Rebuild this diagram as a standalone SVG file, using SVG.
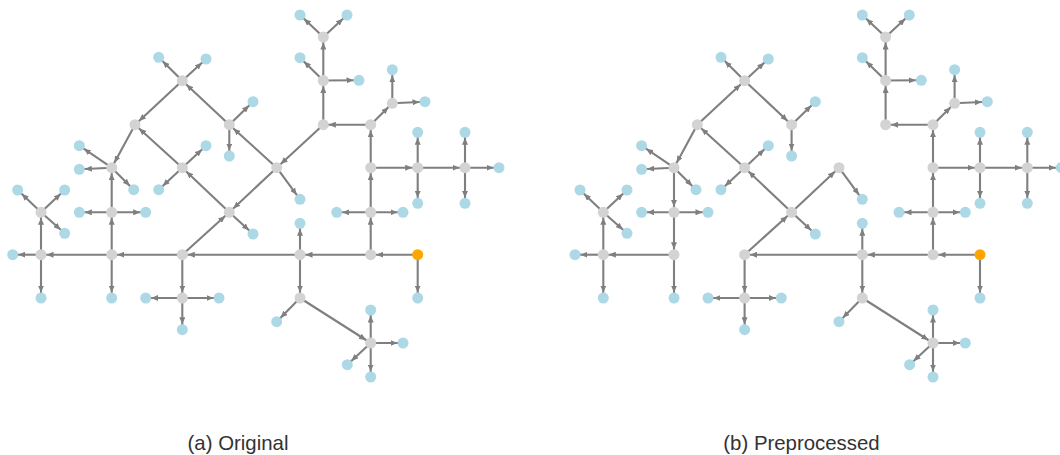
<svg xmlns="http://www.w3.org/2000/svg" width="1060" height="455" viewBox="0 0 1060 455">
<style>
.e{stroke:#7f7f7f;stroke-width:2.1;fill:none;marker-end:url(#arr)}
.g{fill:#d3d3d3}
.b{fill:#add8e6}
.o{fill:#ffa500}
.cap{font-family:"Liberation Sans",Arial,sans-serif;font-size:20.4px;fill:#333;text-anchor:middle}
</style>
<defs>
<marker id="arr" markerUnits="userSpaceOnUse" markerWidth="7" markerHeight="6" viewBox="0 0 7 6" refX="12.5" refY="3" orient="auto">
<path d="M0,0 L7,3 L0,6 z" fill="#7f7f7f"/>
</marker>
</defs>

<!-- (a) original graph -->
<g id="graph-a">
<g id="a-edges">
<line class="e" x1="182.3" y1="80.7" x2="158.7" y2="57.3"/>
<line class="e" x1="182.3" y1="80.7" x2="206" y2="59"/>
<line class="e" x1="182.3" y1="80.7" x2="135" y2="124.7"/>
<line class="e" x1="229.3" y1="124.7" x2="182.3" y2="80.7"/>
<line class="e" x1="229.3" y1="124.7" x2="253" y2="101.7"/>
<line class="e" x1="229.3" y1="124.7" x2="229.3" y2="156"/>
<line class="e" x1="276.7" y1="167.7" x2="229.3" y2="124.7"/>
<line class="e" x1="135" y1="124.7" x2="111.7" y2="167.7"/>
<line class="e" x1="182.3" y1="167.7" x2="135" y2="124.7"/>
<line class="e" x1="111.7" y1="167.7" x2="79.3" y2="145.7"/>
<line class="e" x1="111.7" y1="167.7" x2="79.3" y2="169.3"/>
<line class="e" x1="111.7" y1="167.7" x2="133.7" y2="189.7"/>
<line class="e" x1="182.3" y1="167.7" x2="206" y2="145.7"/>
<line class="e" x1="182.3" y1="167.7" x2="158.7" y2="189.7"/>
<line class="e" x1="229.3" y1="212.3" x2="182.3" y2="167.7"/>
<line class="e" x1="323.3" y1="37" x2="300" y2="15"/>
<line class="e" x1="323.3" y1="37" x2="347" y2="15"/>
<line class="e" x1="323.3" y1="80.5" x2="323.3" y2="37"/>
<line class="e" x1="323.3" y1="80.5" x2="300" y2="57.7"/>
<line class="e" x1="323.3" y1="80.5" x2="359" y2="80.3"/>
<line class="e" x1="323.3" y1="124.7" x2="323.3" y2="80.5"/>
<line class="e" x1="370.7" y1="124.7" x2="323.3" y2="124.7"/>
<line class="e" x1="370.7" y1="124.7" x2="392.3" y2="103.3"/>
<line class="e" x1="392.3" y1="103.3" x2="392.3" y2="69.7"/>
<line class="e" x1="392.3" y1="103.3" x2="425" y2="101.7"/>
<line class="e" x1="323.3" y1="124.7" x2="276.7" y2="167.7"/>
<line class="e" x1="276.7" y1="167.7" x2="300" y2="199.3"/>
<line class="e" x1="276.7" y1="167.7" x2="229.3" y2="212.3"/>
<line class="e" x1="370.7" y1="167.7" x2="370.7" y2="124.7"/>
<line class="e" x1="370.7" y1="167.7" x2="417.7" y2="167.7"/>
<line class="e" x1="417.7" y1="167.7" x2="465" y2="167.7"/>
<line class="e" x1="417.7" y1="167.7" x2="417.7" y2="132.3"/>
<line class="e" x1="417.7" y1="167.7" x2="417.7" y2="203.3"/>
<line class="e" x1="465" y1="167.7" x2="465" y2="132.3"/>
<line class="e" x1="465" y1="167.7" x2="465" y2="203.3"/>
<line class="e" x1="465" y1="167.7" x2="499" y2="167.7"/>
<line class="e" x1="370.7" y1="212.3" x2="370.7" y2="167.7"/>
<line class="e" x1="370.7" y1="212.3" x2="336.7" y2="212.3"/>
<line class="e" x1="370.7" y1="212.3" x2="403" y2="212.3"/>
<line class="e" x1="370.7" y1="254.7" x2="370.7" y2="212.3"/>
<line class="e" x1="41" y1="212.3" x2="17.7" y2="190"/>
<line class="e" x1="41" y1="212.3" x2="64.7" y2="190"/>
<line class="e" x1="41" y1="212.3" x2="64.7" y2="233.3"/>
<line class="e" x1="41" y1="254.7" x2="41" y2="212.3"/>
<line class="e" x1="111.7" y1="212.3" x2="111.7" y2="167.7"/>
<line class="e" x1="111.7" y1="212.3" x2="79.3" y2="212.3"/>
<line class="e" x1="111.7" y1="212.3" x2="145.7" y2="212.3"/>
<line class="e" x1="111.7" y1="254.7" x2="111.7" y2="212.3"/>
<line class="e" x1="111.7" y1="254.7" x2="41" y2="254.7"/>
<line class="e" x1="41" y1="254.7" x2="12.7" y2="254.7"/>
<line class="e" x1="41" y1="254.7" x2="41" y2="298"/>
<line class="e" x1="111.7" y1="254.7" x2="111.7" y2="298"/>
<line class="e" x1="182.3" y1="254.7" x2="111.7" y2="254.7"/>
<line class="e" x1="182.3" y1="254.7" x2="182.3" y2="298"/>
<line class="e" x1="182.3" y1="254.7" x2="229.3" y2="212.3"/>
<line class="e" x1="182.3" y1="298" x2="145.7" y2="298"/>
<line class="e" x1="182.3" y1="298" x2="219" y2="298"/>
<line class="e" x1="182.3" y1="298" x2="182.3" y2="329.7"/>
<line class="e" x1="229.3" y1="212.3" x2="253" y2="234"/>
<line class="e" x1="300" y1="254.7" x2="182.3" y2="254.7"/>
<line class="e" x1="300" y1="254.7" x2="300" y2="223.3"/>
<line class="e" x1="370.7" y1="254.7" x2="300" y2="254.7"/>
<line class="e" x1="417.7" y1="254.7" x2="370.7" y2="254.7"/>
<line class="e" x1="417.7" y1="254.7" x2="417.7" y2="298"/>
<line class="e" x1="300" y1="254.7" x2="300" y2="298"/>
<line class="e" x1="300" y1="298" x2="276.7" y2="321.7"/>
<line class="e" x1="300" y1="298" x2="370.7" y2="343"/>
<line class="e" x1="370.7" y1="343" x2="370.7" y2="310"/>
<line class="e" x1="370.7" y1="343" x2="403" y2="343"/>
<line class="e" x1="370.7" y1="343" x2="347.3" y2="364.7"/>
<line class="e" x1="370.7" y1="343" x2="370.7" y2="377"/>
</g>
<g id="a-nodes">
<g id="a-A"><circle class="g" cx="182.3" cy="80.7" r="5.5"/></g>
<g id="a-B"><circle class="g" cx="135" cy="124.7" r="5.5"/></g>
<g id="a-C"><circle class="g" cx="229.3" cy="124.7" r="5.5"/></g>
<g id="a-D"><circle class="g" cx="111.7" cy="167.7" r="5.5"/></g>
<g id="a-E"><circle class="g" cx="182.3" cy="167.7" r="5.5"/></g>
<g id="a-F"><circle class="g" cx="323.3" cy="37" r="5.5"/></g>
<g id="a-G"><circle class="g" cx="323.3" cy="80.5" r="5.5"/></g>
<g id="a-H"><circle class="g" cx="323.3" cy="124.7" r="5.5"/></g>
<g id="a-I"><circle class="g" cx="370.7" cy="124.7" r="5.5"/></g>
<g id="a-J"><circle class="g" cx="392.3" cy="103.3" r="5.5"/></g>
<g id="a-K"><circle class="g" cx="276.7" cy="167.7" r="5.5"/></g>
<g id="a-L"><circle class="g" cx="370.7" cy="167.7" r="5.5"/></g>
<g id="a-M"><circle class="g" cx="417.7" cy="167.7" r="5.5"/></g>
<g id="a-N"><circle class="g" cx="465" cy="167.7" r="5.5"/></g>
<g id="a-O"><circle class="g" cx="41" cy="212.3" r="5.5"/></g>
<g id="a-P"><circle class="g" cx="111.7" cy="212.3" r="5.5"/></g>
<g id="a-Q"><circle class="g" cx="41" cy="254.7" r="5.5"/></g>
<g id="a-R"><circle class="g" cx="111.7" cy="254.7" r="5.5"/></g>
<g id="a-S"><circle class="g" cx="182.3" cy="254.7" r="5.5"/></g>
<g id="a-T"><circle class="g" cx="182.3" cy="298" r="5.5"/></g>
<g id="a-U"><circle class="g" cx="229.3" cy="212.3" r="5.5"/></g>
<g id="a-V"><circle class="g" cx="370.7" cy="212.3" r="5.5"/></g>
<g id="a-W"><circle class="g" cx="300" cy="254.7" r="5.5"/></g>
<g id="a-X"><circle class="g" cx="370.7" cy="254.7" r="5.5"/></g>
<g id="a-Y"><circle class="o" cx="417.7" cy="254.7" r="5.5"/></g>
<g id="a-Z"><circle class="g" cx="300" cy="298" r="5.5"/></g>
<g id="a-AA"><circle class="g" cx="370.7" cy="343" r="5.5"/></g>
<g id="a-a1"><circle class="b" cx="158.7" cy="57.3" r="5.5"/></g>
<g id="a-a2"><circle class="b" cx="206" cy="59" r="5.5"/></g>
<g id="a-c1"><circle class="b" cx="253" cy="101.7" r="5.5"/></g>
<g id="a-c2"><circle class="b" cx="229.3" cy="156" r="5.5"/></g>
<g id="a-d1"><circle class="b" cx="79.3" cy="145.7" r="5.5"/></g>
<g id="a-d2"><circle class="b" cx="79.3" cy="169.3" r="5.5"/></g>
<g id="a-d3"><circle class="b" cx="133.7" cy="189.7" r="5.5"/></g>
<g id="a-e1"><circle class="b" cx="206" cy="145.7" r="5.5"/></g>
<g id="a-e2"><circle class="b" cx="158.7" cy="189.7" r="5.5"/></g>
<g id="a-f1"><circle class="b" cx="300" cy="15" r="5.5"/></g>
<g id="a-f2"><circle class="b" cx="347" cy="15" r="5.5"/></g>
<g id="a-g1"><circle class="b" cx="300" cy="57.7" r="5.5"/></g>
<g id="a-g2"><circle class="b" cx="359" cy="80.3" r="5.5"/></g>
<g id="a-j1"><circle class="b" cx="392.3" cy="69.7" r="5.5"/></g>
<g id="a-j2"><circle class="b" cx="425" cy="101.7" r="5.5"/></g>
<g id="a-k1"><circle class="b" cx="300" cy="199.3" r="5.5"/></g>
<g id="a-m1"><circle class="b" cx="417.7" cy="132.3" r="5.5"/></g>
<g id="a-m2"><circle class="b" cx="417.7" cy="203.3" r="5.5"/></g>
<g id="a-n1"><circle class="b" cx="465" cy="132.3" r="5.5"/></g>
<g id="a-n2"><circle class="b" cx="465" cy="203.3" r="5.5"/></g>
<g id="a-n3"><circle class="b" cx="499" cy="167.7" r="5.5"/></g>
<g id="a-o1"><circle class="b" cx="17.7" cy="190" r="5.5"/></g>
<g id="a-o2"><circle class="b" cx="64.7" cy="190" r="5.5"/></g>
<g id="a-o3"><circle class="b" cx="64.7" cy="233.3" r="5.5"/></g>
<g id="a-p1"><circle class="b" cx="79.3" cy="212.3" r="5.5"/></g>
<g id="a-p2"><circle class="b" cx="145.7" cy="212.3" r="5.5"/></g>
<g id="a-q1"><circle class="b" cx="12.7" cy="254.7" r="5.5"/></g>
<g id="a-q2"><circle class="b" cx="41" cy="298" r="5.5"/></g>
<g id="a-r1"><circle class="b" cx="111.7" cy="298" r="5.5"/></g>
<g id="a-t1"><circle class="b" cx="145.7" cy="298" r="5.5"/></g>
<g id="a-t2"><circle class="b" cx="219" cy="298" r="5.5"/></g>
<g id="a-t3"><circle class="b" cx="182.3" cy="329.7" r="5.5"/></g>
<g id="a-u1"><circle class="b" cx="253" cy="234" r="5.5"/></g>
<g id="a-v1"><circle class="b" cx="336.7" cy="212.3" r="5.5"/></g>
<g id="a-v2"><circle class="b" cx="403" cy="212.3" r="5.5"/></g>
<g id="a-w1"><circle class="b" cx="300" cy="223.3" r="5.5"/></g>
<g id="a-y1"><circle class="b" cx="417.7" cy="298" r="5.5"/></g>
<g id="a-z1"><circle class="b" cx="276.7" cy="321.7" r="5.5"/></g>
<g id="a-aa1"><circle class="b" cx="370.7" cy="310" r="5.5"/></g>
<g id="a-aa2"><circle class="b" cx="403" cy="343" r="5.5"/></g>
<g id="a-aa3"><circle class="b" cx="347.3" cy="364.7" r="5.5"/></g>
<g id="a-aa4"><circle class="b" cx="370.7" cy="377" r="5.5"/></g>
</g>
</g>

<!-- (b) preprocessed graph: same layout, some edges reversed or dropped -->
<g id="graph-b" transform="translate(562.3,0)">
<g id="b-edges">
<line class="e" x1="182.3" y1="80.7" x2="158.7" y2="57.3"/>
<line class="e" x1="182.3" y1="80.7" x2="206" y2="59"/>
<line class="e" x1="135" y1="124.7" x2="182.3" y2="80.7"/>
<line class="e" x1="182.3" y1="80.7" x2="229.3" y2="124.7"/>
<line class="e" x1="229.3" y1="124.7" x2="253" y2="101.7"/>
<line class="e" x1="229.3" y1="124.7" x2="229.3" y2="156"/>
<line class="e" x1="135" y1="124.7" x2="111.7" y2="167.7"/>
<line class="e" x1="182.3" y1="167.7" x2="135" y2="124.7"/>
<line class="e" x1="111.7" y1="167.7" x2="79.3" y2="145.7"/>
<line class="e" x1="111.7" y1="167.7" x2="79.3" y2="169.3"/>
<line class="e" x1="111.7" y1="167.7" x2="133.7" y2="189.7"/>
<line class="e" x1="182.3" y1="167.7" x2="206" y2="145.7"/>
<line class="e" x1="182.3" y1="167.7" x2="158.7" y2="189.7"/>
<line class="e" x1="229.3" y1="212.3" x2="182.3" y2="167.7"/>
<line class="e" x1="323.3" y1="37" x2="300" y2="15"/>
<line class="e" x1="323.3" y1="37" x2="347" y2="15"/>
<line class="e" x1="323.3" y1="80.5" x2="323.3" y2="37"/>
<line class="e" x1="323.3" y1="80.5" x2="300" y2="57.7"/>
<line class="e" x1="323.3" y1="80.5" x2="359" y2="80.3"/>
<line class="e" x1="323.3" y1="124.7" x2="323.3" y2="80.5"/>
<line class="e" x1="370.7" y1="124.7" x2="323.3" y2="124.7"/>
<line class="e" x1="370.7" y1="124.7" x2="392.3" y2="103.3"/>
<line class="e" x1="392.3" y1="103.3" x2="392.3" y2="69.7"/>
<line class="e" x1="392.3" y1="103.3" x2="425" y2="101.7"/>
<line class="e" x1="276.7" y1="167.7" x2="300" y2="199.3"/>
<line class="e" x1="229.3" y1="212.3" x2="276.7" y2="167.7"/>
<line class="e" x1="370.7" y1="167.7" x2="370.7" y2="124.7"/>
<line class="e" x1="370.7" y1="167.7" x2="417.7" y2="167.7"/>
<line class="e" x1="417.7" y1="167.7" x2="465" y2="167.7"/>
<line class="e" x1="417.7" y1="167.7" x2="417.7" y2="132.3"/>
<line class="e" x1="417.7" y1="167.7" x2="417.7" y2="203.3"/>
<line class="e" x1="465" y1="167.7" x2="465" y2="132.3"/>
<line class="e" x1="465" y1="167.7" x2="465" y2="203.3"/>
<line class="e" x1="465" y1="167.7" x2="499" y2="167.7"/>
<line class="e" x1="370.7" y1="212.3" x2="370.7" y2="167.7"/>
<line class="e" x1="370.7" y1="212.3" x2="336.7" y2="212.3"/>
<line class="e" x1="370.7" y1="212.3" x2="403" y2="212.3"/>
<line class="e" x1="370.7" y1="254.7" x2="370.7" y2="212.3"/>
<line class="e" x1="41" y1="212.3" x2="17.7" y2="190"/>
<line class="e" x1="41" y1="212.3" x2="64.7" y2="190"/>
<line class="e" x1="41" y1="212.3" x2="64.7" y2="233.3"/>
<line class="e" x1="41" y1="254.7" x2="41" y2="212.3"/>
<line class="e" x1="111.7" y1="167.7" x2="111.7" y2="212.3"/>
<line class="e" x1="111.7" y1="212.3" x2="79.3" y2="212.3"/>
<line class="e" x1="111.7" y1="212.3" x2="145.7" y2="212.3"/>
<line class="e" x1="111.7" y1="212.3" x2="111.7" y2="254.7"/>
<line class="e" x1="111.7" y1="254.7" x2="41" y2="254.7"/>
<line class="e" x1="41" y1="254.7" x2="12.7" y2="254.7"/>
<line class="e" x1="41" y1="254.7" x2="41" y2="298"/>
<line class="e" x1="111.7" y1="254.7" x2="111.7" y2="298"/>
<line class="e" x1="182.3" y1="254.7" x2="182.3" y2="298"/>
<line class="e" x1="182.3" y1="254.7" x2="229.3" y2="212.3"/>
<line class="e" x1="182.3" y1="298" x2="145.7" y2="298"/>
<line class="e" x1="182.3" y1="298" x2="219" y2="298"/>
<line class="e" x1="182.3" y1="298" x2="182.3" y2="329.7"/>
<line class="e" x1="229.3" y1="212.3" x2="253" y2="234"/>
<line class="e" x1="300" y1="254.7" x2="182.3" y2="254.7"/>
<line class="e" x1="300" y1="254.7" x2="300" y2="223.3"/>
<line class="e" x1="370.7" y1="254.7" x2="300" y2="254.7"/>
<line class="e" x1="417.7" y1="254.7" x2="370.7" y2="254.7"/>
<line class="e" x1="417.7" y1="254.7" x2="417.7" y2="298"/>
<line class="e" x1="300" y1="254.7" x2="300" y2="298"/>
<line class="e" x1="300" y1="298" x2="276.7" y2="321.7"/>
<line class="e" x1="300" y1="298" x2="370.7" y2="343"/>
<line class="e" x1="370.7" y1="343" x2="370.7" y2="310"/>
<line class="e" x1="370.7" y1="343" x2="403" y2="343"/>
<line class="e" x1="370.7" y1="343" x2="347.3" y2="364.7"/>
<line class="e" x1="370.7" y1="343" x2="370.7" y2="377"/>
</g>
<g id="b-nodes">
<g id="b-A"><circle class="g" cx="182.3" cy="80.7" r="5.5"/></g>
<g id="b-B"><circle class="g" cx="135" cy="124.7" r="5.5"/></g>
<g id="b-C"><circle class="g" cx="229.3" cy="124.7" r="5.5"/></g>
<g id="b-D"><circle class="g" cx="111.7" cy="167.7" r="5.5"/></g>
<g id="b-E"><circle class="g" cx="182.3" cy="167.7" r="5.5"/></g>
<g id="b-F"><circle class="g" cx="323.3" cy="37" r="5.5"/></g>
<g id="b-G"><circle class="g" cx="323.3" cy="80.5" r="5.5"/></g>
<g id="b-H"><circle class="g" cx="323.3" cy="124.7" r="5.5"/></g>
<g id="b-I"><circle class="g" cx="370.7" cy="124.7" r="5.5"/></g>
<g id="b-J"><circle class="g" cx="392.3" cy="103.3" r="5.5"/></g>
<g id="b-K"><circle class="g" cx="276.7" cy="167.7" r="5.5"/></g>
<g id="b-L"><circle class="g" cx="370.7" cy="167.7" r="5.5"/></g>
<g id="b-M"><circle class="g" cx="417.7" cy="167.7" r="5.5"/></g>
<g id="b-N"><circle class="g" cx="465" cy="167.7" r="5.5"/></g>
<g id="b-O"><circle class="g" cx="41" cy="212.3" r="5.5"/></g>
<g id="b-P"><circle class="g" cx="111.7" cy="212.3" r="5.5"/></g>
<g id="b-Q"><circle class="g" cx="41" cy="254.7" r="5.5"/></g>
<g id="b-R"><circle class="g" cx="111.7" cy="254.7" r="5.5"/></g>
<g id="b-S"><circle class="g" cx="182.3" cy="254.7" r="5.5"/></g>
<g id="b-T"><circle class="g" cx="182.3" cy="298" r="5.5"/></g>
<g id="b-U"><circle class="g" cx="229.3" cy="212.3" r="5.5"/></g>
<g id="b-V"><circle class="g" cx="370.7" cy="212.3" r="5.5"/></g>
<g id="b-W"><circle class="g" cx="300" cy="254.7" r="5.5"/></g>
<g id="b-X"><circle class="g" cx="370.7" cy="254.7" r="5.5"/></g>
<g id="b-Y"><circle class="o" cx="417.7" cy="254.7" r="5.5"/></g>
<g id="b-Z"><circle class="g" cx="300" cy="298" r="5.5"/></g>
<g id="b-AA"><circle class="g" cx="370.7" cy="343" r="5.5"/></g>
<g id="b-a1"><circle class="b" cx="158.7" cy="57.3" r="5.5"/></g>
<g id="b-a2"><circle class="b" cx="206" cy="59" r="5.5"/></g>
<g id="b-c1"><circle class="b" cx="253" cy="101.7" r="5.5"/></g>
<g id="b-c2"><circle class="b" cx="229.3" cy="156" r="5.5"/></g>
<g id="b-d1"><circle class="b" cx="79.3" cy="145.7" r="5.5"/></g>
<g id="b-d2"><circle class="b" cx="79.3" cy="169.3" r="5.5"/></g>
<g id="b-d3"><circle class="b" cx="133.7" cy="189.7" r="5.5"/></g>
<g id="b-e1"><circle class="b" cx="206" cy="145.7" r="5.5"/></g>
<g id="b-e2"><circle class="b" cx="158.7" cy="189.7" r="5.5"/></g>
<g id="b-f1"><circle class="b" cx="300" cy="15" r="5.5"/></g>
<g id="b-f2"><circle class="b" cx="347" cy="15" r="5.5"/></g>
<g id="b-g1"><circle class="b" cx="300" cy="57.7" r="5.5"/></g>
<g id="b-g2"><circle class="b" cx="359" cy="80.3" r="5.5"/></g>
<g id="b-j1"><circle class="b" cx="392.3" cy="69.7" r="5.5"/></g>
<g id="b-j2"><circle class="b" cx="425" cy="101.7" r="5.5"/></g>
<g id="b-k1"><circle class="b" cx="300" cy="199.3" r="5.5"/></g>
<g id="b-m1"><circle class="b" cx="417.7" cy="132.3" r="5.5"/></g>
<g id="b-m2"><circle class="b" cx="417.7" cy="203.3" r="5.5"/></g>
<g id="b-n1"><circle class="b" cx="465" cy="132.3" r="5.5"/></g>
<g id="b-n2"><circle class="b" cx="465" cy="203.3" r="5.5"/></g>
<g id="b-n3"><circle class="b" cx="499" cy="167.7" r="5.5"/></g>
<g id="b-o1"><circle class="b" cx="17.7" cy="190" r="5.5"/></g>
<g id="b-o2"><circle class="b" cx="64.7" cy="190" r="5.5"/></g>
<g id="b-o3"><circle class="b" cx="64.7" cy="233.3" r="5.5"/></g>
<g id="b-p1"><circle class="b" cx="79.3" cy="212.3" r="5.5"/></g>
<g id="b-p2"><circle class="b" cx="145.7" cy="212.3" r="5.5"/></g>
<g id="b-q1"><circle class="b" cx="12.7" cy="254.7" r="5.5"/></g>
<g id="b-q2"><circle class="b" cx="41" cy="298" r="5.5"/></g>
<g id="b-r1"><circle class="b" cx="111.7" cy="298" r="5.5"/></g>
<g id="b-t1"><circle class="b" cx="145.7" cy="298" r="5.5"/></g>
<g id="b-t2"><circle class="b" cx="219" cy="298" r="5.5"/></g>
<g id="b-t3"><circle class="b" cx="182.3" cy="329.7" r="5.5"/></g>
<g id="b-u1"><circle class="b" cx="253" cy="234" r="5.5"/></g>
<g id="b-v1"><circle class="b" cx="336.7" cy="212.3" r="5.5"/></g>
<g id="b-v2"><circle class="b" cx="403" cy="212.3" r="5.5"/></g>
<g id="b-w1"><circle class="b" cx="300" cy="223.3" r="5.5"/></g>
<g id="b-y1"><circle class="b" cx="417.7" cy="298" r="5.5"/></g>
<g id="b-z1"><circle class="b" cx="276.7" cy="321.7" r="5.5"/></g>
<g id="b-aa1"><circle class="b" cx="370.7" cy="310" r="5.5"/></g>
<g id="b-aa2"><circle class="b" cx="403" cy="343" r="5.5"/></g>
<g id="b-aa3"><circle class="b" cx="347.3" cy="364.7" r="5.5"/></g>
<g id="b-aa4"><circle class="b" cx="370.7" cy="377" r="5.5"/></g>
</g>
</g>

<text class="cap" x="238" y="450">(a) Original</text>
<text class="cap" x="801.5" y="450">(b) Preprocessed</text>
</svg>
